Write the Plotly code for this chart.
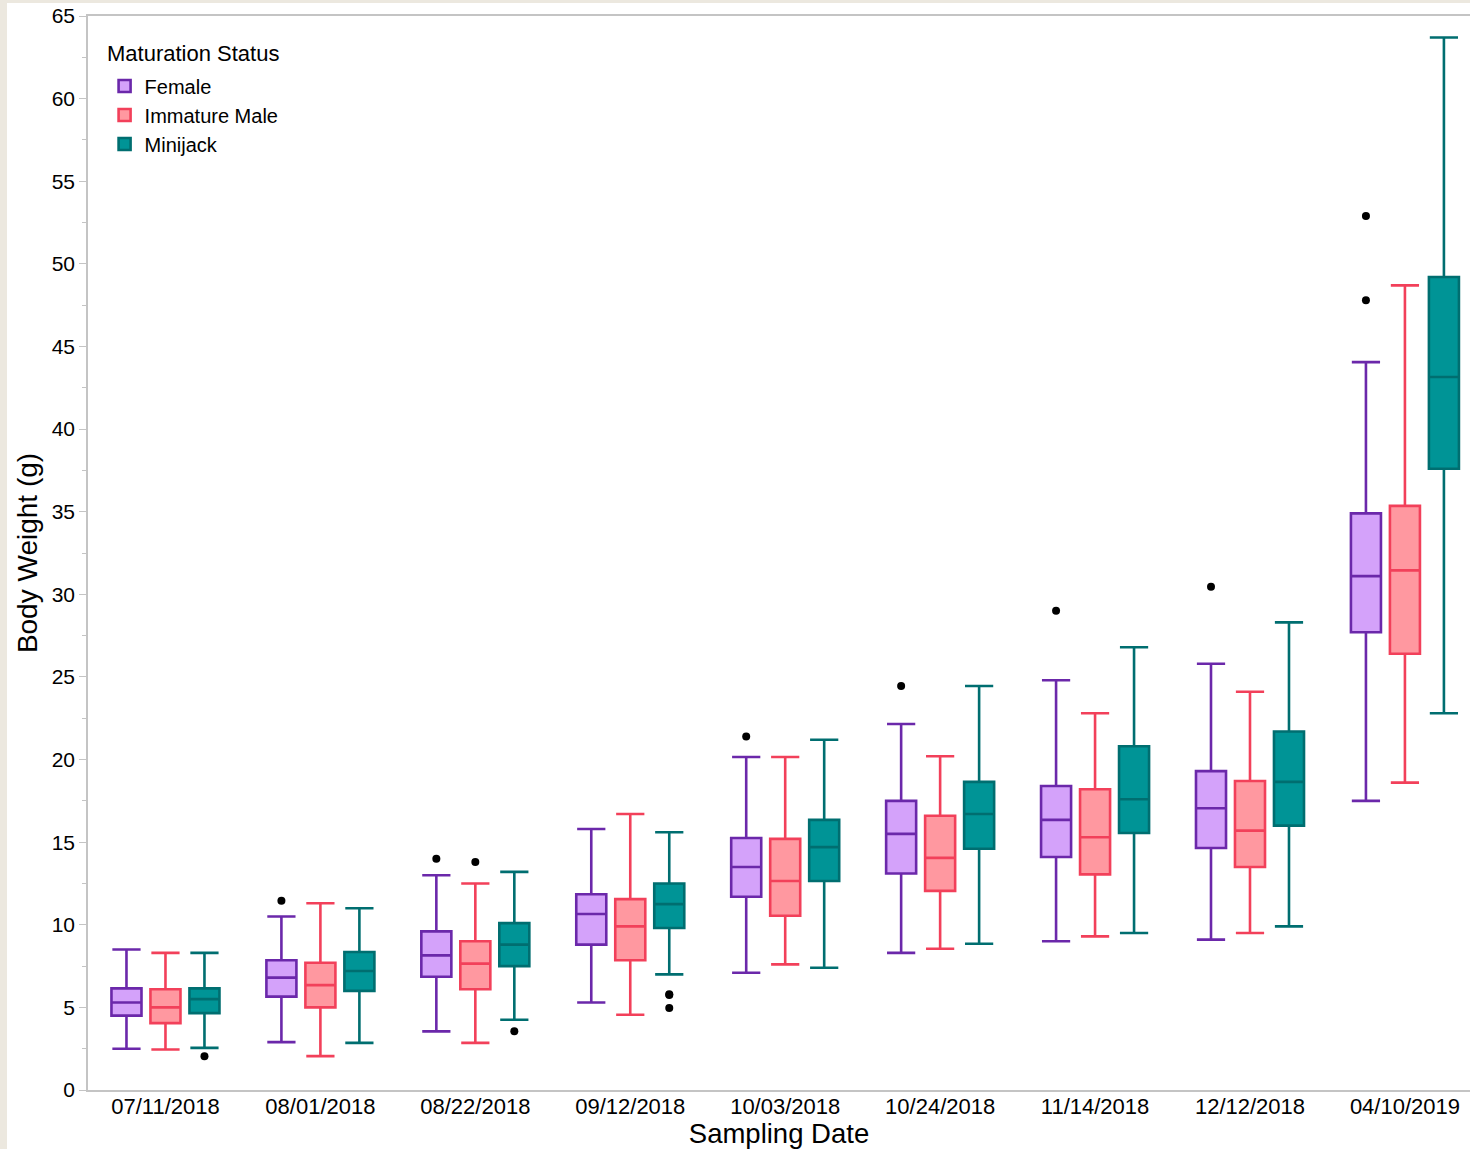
import plotly.graph_objects as go

# Sampling dates (x categories)
dates = ["07/11/2018", "08/01/2018", "08/22/2018", "09/12/2018", "10/03/2018",
         "10/24/2018", "11/14/2018", "12/12/2018", "04/10/2019"]

# Box statistics per maturation status (body weight, g)
female_low = [2.5, 2.9, 3.55, 5.3, 7.1, 8.3, 9.0, 9.1, 17.5]
female_q1 = [4.5, 5.65, 6.85, 8.8, 11.7, 13.1, 14.1, 14.65, 27.7]
female_med = [5.3, 6.8, 8.15, 10.65, 13.5, 15.5, 16.35, 17.05, 31.1]
female_q3 = [6.15, 7.85, 9.6, 11.85, 15.25, 17.5, 18.4, 19.3, 34.9]
female_high = [8.5, 10.5, 13.0, 15.8, 20.15, 22.15, 24.8, 25.8, 44.05]

imm_low = [2.45, 2.05, 2.85, 4.55, 7.6, 8.55, 9.3, 9.5, 18.6]
imm_q1 = [4.05, 5.0, 6.1, 7.85, 10.55, 12.05, 13.05, 13.5, 26.4]
imm_med = [5.0, 6.35, 7.65, 9.9, 12.65, 14.05, 15.3, 15.7, 31.45]
imm_q3 = [6.1, 7.7, 9.0, 11.55, 15.2, 16.6, 18.2, 18.7, 35.35]
imm_high = [8.3, 11.3, 12.5, 16.7, 20.15, 20.2, 22.8, 24.1, 48.7]

mj_low = [2.55, 2.85, 4.25, 7.0, 7.4, 8.85, 9.5, 9.9, 22.8]
mj_q1 = [4.65, 6.0, 7.5, 9.8, 12.65, 14.6, 15.55, 16.0, 37.6]
mj_med = [5.5, 7.2, 8.8, 11.25, 14.7, 16.7, 17.6, 18.65, 43.15]
mj_q3 = [6.15, 8.35, 10.1, 12.5, 16.35, 18.65, 20.8, 21.7, 49.2]
mj_high = [8.3, 11.0, 13.2, 15.6, 21.2, 24.45, 26.8, 28.3, 63.7]

# Outlying observations (date, weight)
female_out_dates = ["08/01/2018", "08/22/2018", "10/03/2018", "10/24/2018",
                    "11/14/2018", "12/12/2018", "04/10/2019", "04/10/2019"]
female_out_vals = [11.45, 14.0, 21.4, 24.45, 29.0, 30.45, 47.8, 52.9]
imm_out_dates = ["08/22/2018"]
imm_out_vals = [13.8]
mj_out_dates = ["07/11/2018", "08/22/2018", "09/12/2018", "09/12/2018", "09/12/2018"]
mj_out_vals = [2.05, 3.55, 5.75, 5.8, 4.97]

series = [
    ("Female", female_low, female_q1, female_med, female_q3, female_high,
     female_out_dates, female_out_vals, "#6B28AA", "#D4A2FA"),
    ("Immature Male", imm_low, imm_q1, imm_med, imm_q3, imm_high,
     imm_out_dates, imm_out_vals, "#F2405A", "#FF98A0"),
    ("Minijack", mj_low, mj_q1, mj_med, mj_q3, mj_high,
     mj_out_dates, mj_out_vals, "#006E70", "#009496"),
]

FONT = "Liberation Sans, Arial, Helvetica, sans-serif"

fig = go.Figure()
for name, lo, q1, med, q3, hi, odates, ovals, line_c, fill_c in series:
    fig.add_trace(go.Box(
        name=name, x=dates, q1=q1, median=med, q3=q3,
        lowerfence=lo, upperfence=hi,
        offsetgroup=name, boxpoints=False,
        line=dict(color=line_c, width=2.6), fillcolor=fill_c,
        whiskerwidth=0.94, hoverinfo="skip",
    ))
    # outlier dots placed in the same offset slot as their box
    fig.add_trace(go.Box(
        name=name, x=odates, y=ovals, offsetgroup=name,
        boxpoints="all", jitter=0, pointpos=0,
        line=dict(color="rgba(0,0,0,0)", width=0),
        fillcolor="rgba(0,0,0,0)",
        marker=dict(color="black", size=8),
        showlegend=False, hoverinfo="skip",
    ))

W, H = 1470, 1149
L, R, T, B = 88, 0, 16, 59
pw, ph = W - L - R, H - T - B
beige = "#ECE8DF"

fig.update_layout(
    width=W, height=H,
    margin=dict(l=L, r=R, t=T, b=B),
    paper_bgcolor="white", plot_bgcolor="white",
    boxmode="group", boxgap=0.245, boxgroupgap=0.23,
    font=dict(family=FONT, color="black"),
    legend=dict(
        font=dict(size=20), x=0.012, y=0.953, xanchor="left", yanchor="top",
        bgcolor="rgba(0,0,0,0)", tracegroupgap=4,
    ),
    annotations=[
        dict(text="Maturation Status", xref="paper", yref="paper",
             x=(105 - L) / pw, y=1 - (53 - T) / ph, xanchor="left",
             yanchor="middle", showarrow=False, font=dict(size=22)),
    ],
    xaxis=dict(
        type="category", range=[-0.5, 8.42],
        showline=True, linecolor="#C4C4C4", linewidth=1.5, mirror=True,
        ticks="", showgrid=False, zeroline=False,
        tickfont=dict(size=22), ticklabelstandoff=-4,
        title=dict(text="Sampling Date", font=dict(size=27.5), standoff=0),
    ),
    yaxis=dict(
        range=[0, 65], dtick=5, tick0=0,
        showline=True, linecolor="#C4C4C4", linewidth=1.5,
        ticks="outside", ticklen=7, tickcolor="#C4C4C4", tickwidth=1.2,
        minor=dict(dtick=2.5, ticks="outside", ticklen=4, tickcolor="#C4C4C4"),
        showgrid=False, zeroline=False,
        tickfont=dict(size=21),
        title=dict(text="Body Weight (g)", font=dict(size=28), standoff=6),
    ),
    shapes=[
        dict(type="rect", xref="paper", yref="paper", layer="below",
             x0=-L / pw, x1=-(L - 7) / pw, y0=-B / ph, y1=1 + T / ph,
             fillcolor=beige, line=dict(width=0)),
        dict(type="rect", xref="paper", yref="paper", layer="below",
             x0=-L / pw, x1=1 + 10 / pw, y0=1 + (T - 3) / ph, y1=1 + T / ph,
             fillcolor=beige, line=dict(width=0)),
    ],
)

fig.write_html("out.html")
